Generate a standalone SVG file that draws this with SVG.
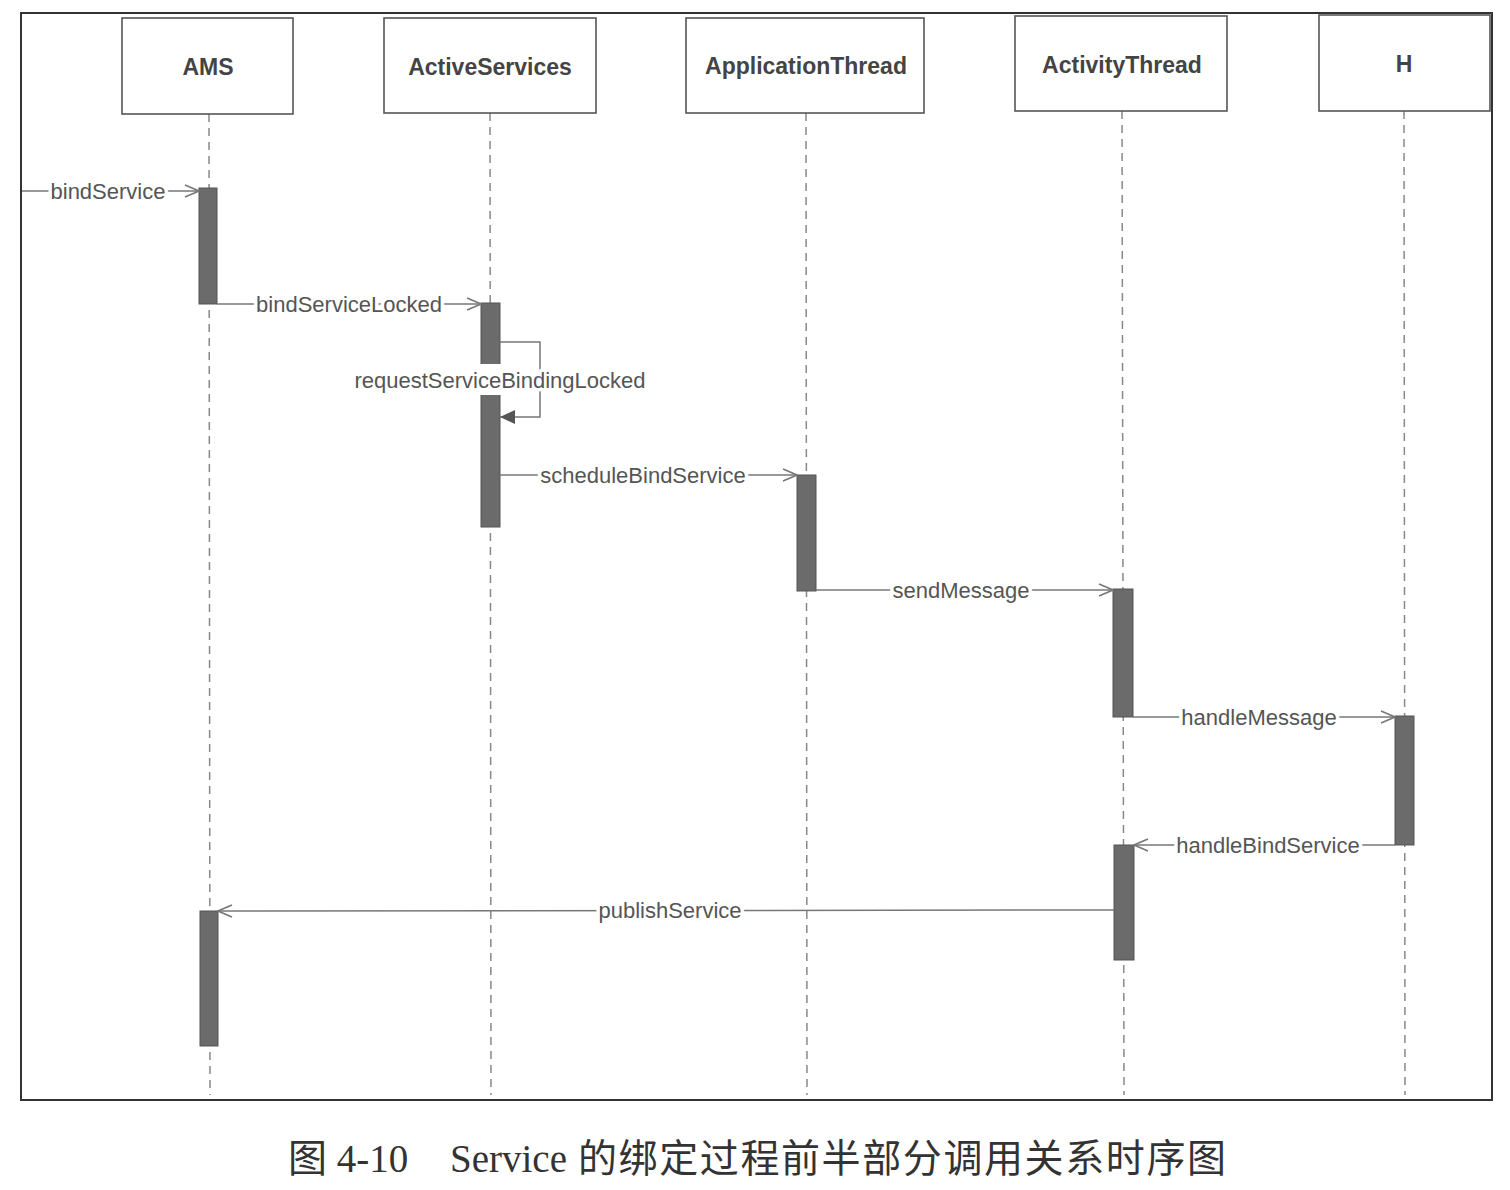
<svg xmlns="http://www.w3.org/2000/svg" width="1510" height="1190" viewBox="0 0 1510 1190">
<style>
.box{fill:#fff;stroke:#555;stroke-width:1.6}
.hdr{font-family:"Liberation Sans",Arial,sans-serif;font-weight:bold;font-size:23px;fill:#444;text-anchor:middle}
.life{stroke:#888;stroke-width:1.5;stroke-dasharray:8 6;fill:none}
.act{fill:#6b6b6b;stroke:#555;stroke-width:1}
.msg{stroke:#777;stroke-width:1.5;fill:none}
.lbl{font-family:"Liberation Sans",Arial,sans-serif;font-size:22px;fill:#555;text-anchor:middle;stroke:#fff;stroke-width:7;paint-order:stroke;stroke-linejoin:round}
.cap{font-family:"Liberation Serif","Noto Sans CJK SC",serif;font-size:39px;fill:#333}
</style>
<defs>
<marker id="open" markerWidth="16" markerHeight="14" refX="15" refY="7" orient="auto" markerUnits="userSpaceOnUse">
<path d="M1,1 L15,7 L1,13" fill="none" stroke="#777" stroke-width="1.5"/>
</marker>
<marker id="fill" markerWidth="16" markerHeight="14" refX="15" refY="7" orient="auto" markerUnits="userSpaceOnUse">
<path d="M0,0 L15,7 L0,14 Z" fill="#555"/>
</marker>
</defs>
<rect x="21" y="13" width="1471" height="1087" fill="none" stroke="#333" stroke-width="2"/>

<g id="AMS">
<line class="life" x1="209" y1="114" x2="210" y2="1095"/>
<rect class="box" x="122" y="18" width="171" height="96"/>
<text class="hdr" x="208" y="75">AMS</text>
<rect class="act" x="199" y="188" width="18" height="116"/>
<rect class="act" x="200" y="911" width="18" height="135"/>
</g>
<g id="ActiveServices">
<line class="life" x1="490" y1="113" x2="491" y2="1095"/>
<rect class="box" x="384" y="18" width="212" height="95"/>
<text class="hdr" x="490" y="75">ActiveServices</text>
<rect class="act" x="481" y="303" width="19" height="224"/>
</g>
<g id="ApplicationThread">
<line class="life" x1="806" y1="113" x2="807" y2="1095"/>
<rect class="box" x="686" y="18" width="238" height="95"/>
<text class="hdr" x="806" y="74">ApplicationThread</text>
<rect class="act" x="797" y="475" width="19" height="116"/>
</g>
<g id="ActivityThread">
<line class="life" x1="1122" y1="111" x2="1124" y2="1095"/>
<rect class="box" x="1015" y="16" width="212" height="95"/>
<text class="hdr" x="1122" y="73">ActivityThread</text>
<rect class="act" x="1113" y="589" width="20" height="128"/>
<rect class="act" x="1114" y="845" width="20" height="115"/>
</g>
<g id="H">
<line class="life" x1="1404" y1="111" x2="1405" y2="1095"/>
<rect class="box" x="1319" y="15" width="171" height="96"/>
<text class="hdr" x="1404" y="72">H</text>
<rect class="act" x="1395" y="716" width="19" height="129"/>
</g>

<g id="connectors">
<line class="msg" x1="22" y1="191" x2="199" y2="191" marker-end="url(#open)"/>
<text class="lbl" x="108" y="199">bindService</text>
<line class="msg" x1="217" y1="304" x2="481" y2="304" marker-end="url(#open)"/>
<text class="lbl" x="349" y="312">bindServiceLocked</text>
<rect x="470" y="364" width="50" height="31" fill="#fff"/>
<path class="msg" d="M500,342 H540 V417 H500" marker-end="url(#fill)"/>
<text class="lbl" x="500" y="388">requestServiceBindingLocked</text>
<line class="msg" x1="500" y1="475" x2="797" y2="475" marker-end="url(#open)"/>
<text class="lbl" x="643" y="483">scheduleBindService</text>
<line class="msg" x1="816" y1="590" x2="1113" y2="590" marker-end="url(#open)"/>
<text class="lbl" x="961" y="598">sendMessage</text>
<line class="msg" x1="1133" y1="717" x2="1395" y2="717" marker-end="url(#open)"/>
<text class="lbl" x="1259" y="725">handleMessage</text>
<line class="msg" x1="1395" y1="845" x2="1134" y2="845" marker-end="url(#open)"/>
<text class="lbl" x="1268" y="853">handleBindService</text>
<line class="msg" x1="1114" y1="910" x2="218" y2="911" marker-end="url(#open)"/>
<text class="lbl" x="670" y="918">publishService</text>
</g>

<text class="cap" x="288" y="1172">图 4-10<tspan x="450">Service</tspan><tspan x="578" letter-spacing="1.6">的绑定过程前半部分调用关系时序图</tspan></text>
</svg>
